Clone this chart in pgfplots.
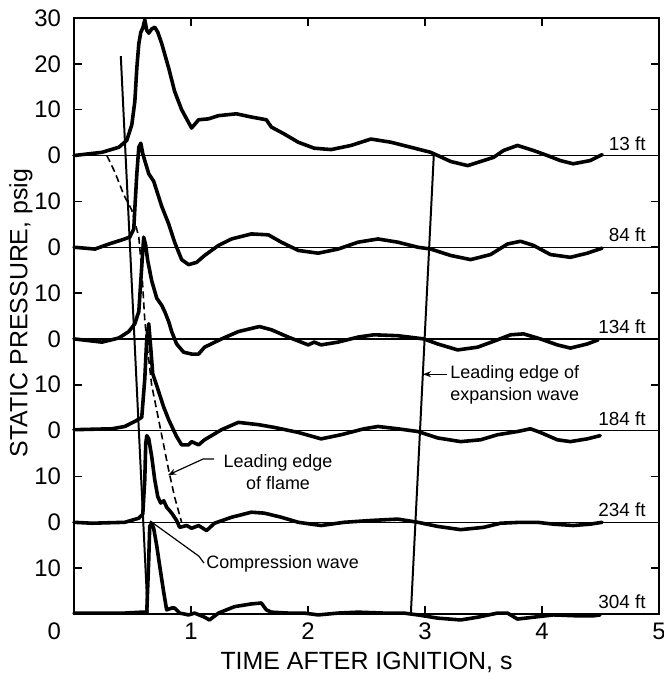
\documentclass[border=0pt]{standalone}
\usepackage{fontspec}
\setmainfont{Liberation Sans}
\usepackage{pgfplots}
\pgfplotsset{compat=1.18}
\usetikzlibrary{arrows.meta}
\tikzset{
  trace/.style={black, line width=1.8pt, line join=round, line cap=round},
  station/.style={anchor=base east, inner sep=0, font=\fontsize{9.5}{11}\selectfont},
  note/.style={inner sep=0, font=\fontsize{9}{11}\selectfont},
}
\begin{document}
\begin{tikzpicture}
\path[use as bounding box] (-37bp,-33bp) rectangle (295bp,307bp);
\begin{axis}[
  at={(0,0)}, anchor=south west,
  scale only axis, width=292.5bp, height=298bp,
  xmin=0, xmax=5, ymin=0, ymax=130,
  clip=false,
  xtick={0,...,5},
  xticklabels={\llap{0\hspace{6.5bp}},1,2,3,4,5},
  ytick={10,20,...,130},
  yticklabels={10,0,10,0,10,0,10,0,10,0,10,20,30},
  tick align=inside, tick pos=both,
  major tick length=4bp,
  every tick/.style={black, line width=0.8pt},
  axis line style={line width=1pt},
  tick label style={font=\fontsize{12}{14}\selectfont},
  yticklabel style={xshift=-3bp},
  xticklabel style={yshift=-1bp},
  /pgf/number format/assume math mode=true,
  xlabel={TIME AFTER IGNITION, s},
  ylabel={STATIC PRESSURE, psig},
  label style={font=\fontsize{12.5}{14}\selectfont},
  xlabel style={at={(axis description cs:0.5,-0.082)}, anchor=center},
  ylabel style={at={(axis description cs:-0.0906,0.505)}, anchor=center},
]

% baselines of the six stations
\pgfplotsinvokeforeach{0,20,40,60,80,100}{
  \addplot[black, line width=0.7pt] coordinates {(0,#1) (5,#1)};
}

% 13 ft
\addplot[trace] coordinates {
(0,100) (0.239,100.7) (0.383,101.8) (0.451,103.3) (0.494,106.7) (0.520,111.8)
(0.537,119.1) (0.554,124.4) (0.571,126.9) (0.588,127.8) (0.605,129.6) (0.622,127.3)
(0.639,126.7) (0.664,127.6) (0.690,128.0) (0.716,126.9) (0.750,124.4) (0.809,119.1)
(0.860,114.0) (0.920,110.0) (1.005,106.0) (1.065,107.8) (1.150,108.0) (1.235,108.7)
(1.388,109.1) (1.516,108.4) (1.644,107.8) (1.687,106.2) (1.797,104.7) (1.917,102.9)
(2.053,101.6) (2.198,101.3) (2.368,102.2) (2.538,103.6) (2.709,102.9) (2.879,101.8)
(3.049,100.7) (3.220,98.7) (3.365,97.8) (3.586,99.6) (3.671,101.1) (3.790,102.2)
(3.927,101.1) (4.046,100) (4.157,98.9) (4.267,98.2) (4.412,98.9) (4.514,100.2)
};

% 84 ft
\addplot[trace] coordinates {
(0,80) (0.179,79.6) (0.298,80.7) (0.409,81.6) (0.477,82.2) (0.511,84.0)
(0.520,88.4) (0.537,96.0) (0.554,101.8) (0.571,102.7) (0.588,100.4) (0.605,98.9)
(0.639,96.0) (0.681,94.4) (0.750,88.9) (0.809,85.1) (0.860,81.1) (0.920,77.3)
(0.980,76.2) (1.048,76.7) (1.116,78.2) (1.235,80.4) (1.346,81.8) (1.516,82.9)
(1.661,82.7) (1.772,81.1) (1.917,79.3) (2.087,78.7) (2.257,79.6) (2.428,81.1)
(2.598,81.8) (2.768,81.1) (2.939,80) (3.049,79.6) (3.220,78.2) (3.390,77.3)
(3.560,78.4) (3.705,80.7) (3.816,81.3) (3.927,80.4) (4.072,78.4) (4.242,77.8)
(4.387,78.7) (4.514,79.8)
};

% 134 ft
\addplot[trace] coordinates {
(0,60) (0.239,59.3) (0.383,60.2) (0.468,61.6) (0.520,63.3) (0.554,66.0)
(0.571,72.7) (0.588,79.3) (0.596,82.2) (0.613,80.4) (0.630,77.1) (0.664,72.7)
(0.707,68.9) (0.750,67.3) (0.775,66.0) (0.809,63.8) (0.835,61.6) (0.877,58.9)
(0.937,57.1) (1.005,56.7) (1.065,56.7) (1.116,58.2) (1.261,60) (1.405,61.6)
(1.584,62.7) (1.687,62.0) (1.831,60.4) (2.002,58.7) (2.053,59.3) (2.112,58.7)
(2.257,59.3) (2.428,60.4) (2.564,60.9) (2.768,60.7) (2.990,60) (3.109,58.9)
(3.279,57.6) (3.450,58.2) (3.620,59.8) (3.731,60.9) (3.842,61.1) (3.986,60)
(4.131,58.7) (4.242,58.0) (4.387,58.9) (4.480,59.8)
};

% 184 ft
\addplot[trace] coordinates {
(0,40.2) (0.324,40.4) (0.434,40.9) (0.520,42.0) (0.579,42.9) (0.605,51.3)
(0.622,60.2) (0.639,63.3) (0.656,58.0) (0.673,52.4) (0.716,49.1) (0.767,45.1)
(0.809,42.4) (0.877,38.7) (0.920,36.9) (0.980,36.9) (1.005,37.6) (1.065,36.9)
(1.116,38.0) (1.261,40.2) (1.405,41.8) (1.576,41.3) (1.712,40.7) (1.917,39.6)
(2.112,38.2) (2.283,39.1) (2.479,40.4) (2.598,40.9) (2.768,40.4) (2.939,39.8)
(3.109,38.4) (3.305,37.6) (3.475,38.0) (3.620,39.1) (3.790,39.8) (3.901,40.4)
(3.986,39.6) (4.131,38.0) (4.242,37.6) (4.387,38.2) (4.497,38.9)
};

% 234 ft
\addplot[trace] coordinates {
(0,20) (0.153,19.8) (0.434,20) (0.554,20.9) (0.588,21.8) (0.605,29.3)
(0.613,37.1) (0.622,38.9) (0.639,38.2) (0.664,34.4) (0.690,29.3) (0.716,25.6)
(0.741,24.2) (0.767,24.7) (0.792,23.3) (0.835,22.0) (0.877,20.4) (0.903,18.9)
(0.963,19.3) (1.005,18.7) (1.065,19.3) (1.133,18.2) (1.201,19.8) (1.346,21.1)
(1.516,22.2) (1.627,22.0) (1.772,21.1) (1.917,20) (2.112,19.3) (2.308,20)
(2.538,20.4) (2.768,20.7) (2.939,20) (3.109,19.1) (3.305,18.4) (3.501,18.9)
(3.646,19.8) (3.816,20) (3.961,20) (4.097,19.6) (4.267,19.3) (4.412,19.6)
(4.514,20)
};

% 304 ft
\addplot[trace] coordinates {
(0,0.2) (0.153,0.2) (0.434,0.2) (0.579,0.4) (0.622,0.4) (0.639,12)
(0.647,19.1) (0.664,19.8) (0.681,18.7) (0.707,14.9) (0.733,10.4) (0.767,4.7)
(0.792,0.9) (0.835,1.3) (0.860,1.3) (0.903,0.2) (0.980,-0.2) (1.031,0.2)
(1.116,-0.7) (1.158,-1.3) (1.235,0.2) (1.371,1.6) (1.516,2.2) (1.601,2.4)
(1.644,0.9) (1.687,0.4) (1.831,0.2) (1.968,0.2) (2.087,-0.2) (2.257,0.2)
(2.428,0.4) (2.649,0.2) (2.819,0.2) (2.939,-0.2) (3.109,-0.9) (3.305,-1.3)
(3.450,-0.7) (3.620,0.2) (3.705,0.2) (3.790,-1.1) (3.927,-0.7) (4.097,-0.2)
(4.301,-0.4) (4.438,-0.4) (4.497,-0.2)
};

% leading edge of flame
\addplot[black, line width=0.8pt, dash pattern=on 3.5pt off 2pt] coordinates {
(0.281,100) (0.349,96.4) (0.426,91.4) (0.494,88.1) (0.554,82.2) (0.579,75.0)
(0.605,64.1) (0.630,57.6) (0.664,49.9) (0.724,42.3) (0.809,31.4) (0.860,25.5)
(0.920,20.0)
};

% compression wave and expansion wave
\addplot[black, line width=1pt] coordinates {(0.400,121.7) (0.630,0)};
\addplot[black, line width=1pt] coordinates {(3.075,100) (2.879,0)};

% station labels
\node[station] at (axis cs:4.89,101.2) {13 ft};
\node[station] at (axis cs:4.89,81.2) {84 ft};
\node[station] at (axis cs:4.89,61.2) {134 ft};
\node[station] at (axis cs:4.89,41.2) {184 ft};
\node[station] at (axis cs:4.89,21.2) {234 ft};
\node[station] at (axis cs:4.89,1.2) {304 ft};

% annotations
\node[note, anchor=west, align=left] at (axis cs:3.214,49.9)
  {Leading edge of\\expansion wave};
\draw[line width=0.6pt, -{Stealth[length=4bp,width=3bp]}]
  (axis cs:3.188,52.3) -- (axis cs:2.983,52.3);

\node[note, align=center] at (axis cs:1.744,31.0) {Leading edge\\of flame};
\draw[line width=0.6pt, -{Stealth[length=4bp,width=3bp]}]
  (axis cs:1.197,33.8) -- (axis cs:1.103,33.8) -- (axis cs:0.803,30.3);

\node[note, anchor=west] at (axis cs:1.128,10.9) {Compression wave};
\draw[line width=0.6pt]
  (axis cs:0.650,20.3) -- (axis cs:1.068,12.6) -- (axis cs:1.111,11.1);

\end{axis}
\end{tikzpicture}
\end{document}
